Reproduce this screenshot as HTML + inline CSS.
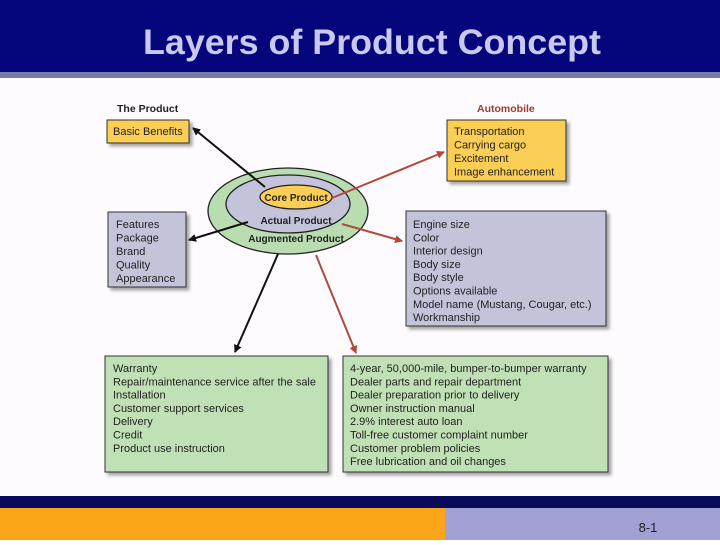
<!DOCTYPE html><html><head><style>body{margin:0;width:720px;height:540px;overflow:hidden;background:#fff;font-family:"Liberation Sans",sans-serif}</style></head><body>
<svg width="720" height="540" xmlns="http://www.w3.org/2000/svg" font-family="Liberation Sans, sans-serif">
<defs>
<marker id="ab" markerWidth="8" markerHeight="8" refX="7" refY="4" orient="auto" markerUnits="userSpaceOnUse"><path d="M0,0L8,4L0,8z" fill="#111"/></marker>
<marker id="ar" markerWidth="8" markerHeight="8" refX="7" refY="4" orient="auto" markerUnits="userSpaceOnUse"><path d="M0,0L8,4L0,8z" fill="#b04a3a"/></marker>
<filter id="sh"><feDropShadow dx="3" dy="3" stdDeviation="1.5" flood-color="#000" flood-opacity="0.35"/></filter>
</defs>
<rect width="720" height="540" fill="#fdfbfd"/>
<rect width="720" height="72" fill="#06067c"/>
<rect y="72" width="720" height="6" fill="#7a7aa8"/>
<text x="372" y="54" text-anchor="middle" font-size="35" font-weight="bold" fill="#c8c8f0" textLength="458" lengthAdjust="spacingAndGlyphs">Layers of Product Concept</text>
<rect x="0" y="496" width="720" height="12" fill="#0a0a5a"/>
<rect x="0" y="508" width="445" height="32" fill="#fba519"/>
<rect x="445" y="508" width="275" height="32" fill="#a0a0d4"/>
<text x="648" y="532" text-anchor="middle" font-size="13" fill="#222">8-1</text>

<g font-size="10.5" fill="#222">
<text x="117" y="112" font-weight="bold">The Product</text>
<text x="477" y="112" font-weight="bold" fill="#9b3a30">Automobile</text>
</g>
<ellipse cx="288" cy="211" rx="80" ry="43" fill="#b9dcb0" stroke="#222" stroke-width="1.3"/>
<ellipse cx="288" cy="204" rx="62" ry="29" fill="#c3c3da" stroke="#222" stroke-width="1.3"/>
<ellipse cx="296" cy="197" rx="36" ry="12" fill="#fbcf55" stroke="#222" stroke-width="1.3"/>
<g font-size="10" font-weight="bold" fill="#222" text-anchor="middle">
<text x="296" y="201">Core Product</text>
<text x="296" y="224">Actual Product</text>
<text x="296" y="242">Augmented Product</text>
</g>

<g filter="url(#sh)" stroke="#333" stroke-width="1">
<rect x="107" y="120" width="82" height="23" fill="#fbcf55"/>
<rect x="447" y="120" width="119" height="61" fill="#fbcf55"/>
<rect x="108" y="212" width="78" height="75" fill="#c3c3da"/>
<rect x="406" y="211" width="200" height="115" fill="#c3c3da"/>
<rect x="105" y="356" width="223" height="116" fill="#c0e0b6"/>
<rect x="343" y="356" width="265" height="116" fill="#c0e0b6"/>
</g>
<g font-size="11" fill="#222">
<text x="113" y="135">Basic Benefits</text>
<text x="454" y="135">Transportation</text><text x="454" y="148.5">Carrying cargo</text><text x="454" y="162">Excitement</text><text x="454" y="175.5">Image enhancement</text>
<text x="116" y="228">Features</text><text x="116" y="241.5">Package</text><text x="116" y="255">Brand</text><text x="116" y="268.5">Quality</text><text x="116" y="282">Appearance</text>
<text x="413" y="228">Engine size</text><text x="413" y="241.3">Color</text><text x="413" y="254.6">Interior design</text><text x="413" y="267.9">Body size</text><text x="413" y="281.2">Body style</text><text x="413" y="294.5">Options available</text><text x="413" y="307.8">Model name (Mustang, Cougar, etc.)</text><text x="413" y="321.1">Workmanship</text>
<text x="113" y="372">Warranty</text><text x="113" y="385.3">Repair/maintenance service after the sale</text><text x="113" y="398.6">Installation</text><text x="113" y="411.9">Customer support services</text><text x="113" y="425.2">Delivery</text><text x="113" y="438.5">Credit</text><text x="113" y="451.8">Product use instruction</text>
<text x="350" y="372">4-year, 50,000-mile, bumper-to-bumper warranty</text><text x="350" y="385.3">Dealer parts and repair department</text><text x="350" y="398.6">Dealer preparation prior to delivery</text><text x="350" y="411.9">Owner instruction manual</text><text x="350" y="425.2">2.9% interest auto loan</text><text x="350" y="438.5">Toll-free customer complaint number</text><text x="350" y="451.8">Customer problem policies</text><text x="350" y="465.1">Free lubrication and oil changes</text>
</g>

<g stroke-width="2" fill="none">
<line x1="265" y1="187" x2="193" y2="128" stroke="#111" marker-end="url(#ab)"/>
<line x1="332" y1="198" x2="444" y2="152" stroke="#b04a3a" marker-end="url(#ar)"/>
<line x1="248" y1="222" x2="189" y2="240" stroke="#111" marker-end="url(#ab)"/>
<line x1="342" y1="224" x2="402" y2="241" stroke="#b04a3a" marker-end="url(#ar)"/>
<line x1="278" y1="254" x2="235" y2="352" stroke="#111" marker-end="url(#ab)"/>
<line x1="316" y1="255" x2="356" y2="353" stroke="#b04a3a" marker-end="url(#ar)"/>
</g>
</svg>
</body></html>
